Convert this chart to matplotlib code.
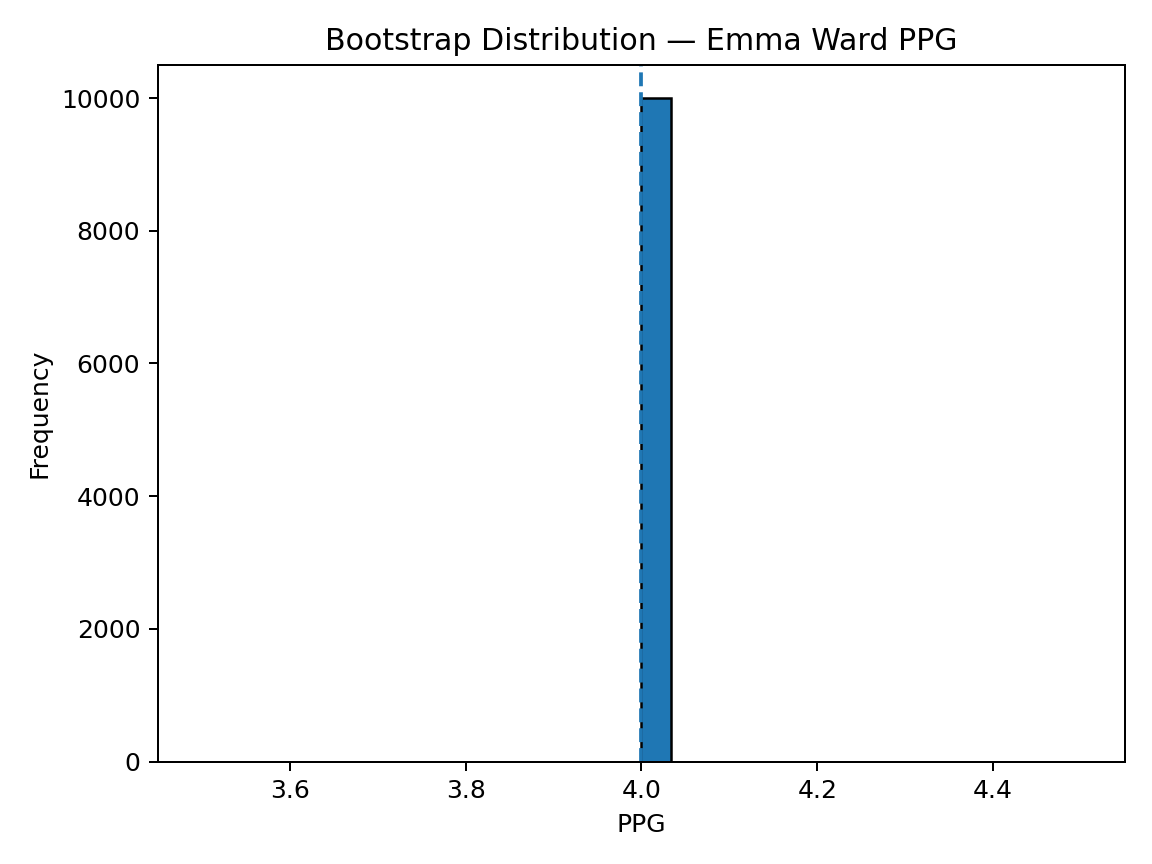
import matplotlib
matplotlib.use("Agg")
import matplotlib.pyplot as plt

# bootstrap means: every resample gave the same PPG
boot_values = [4.0]
boot_counts = [10000]
observed_ppg = 4.0

fig, ax = plt.subplots(figsize=(6.4, 4.8), dpi=180)
ax.hist(boot_values, weights=boot_counts, bins=30, edgecolor="black")
ax.axvline(observed_ppg, linestyle="--")
ax.set_title("Bootstrap Distribution — Emma Ward PPG")
ax.set_xlabel("PPG")
ax.set_ylabel("Frequency")
fig.tight_layout()
fig.savefig("out.png")
